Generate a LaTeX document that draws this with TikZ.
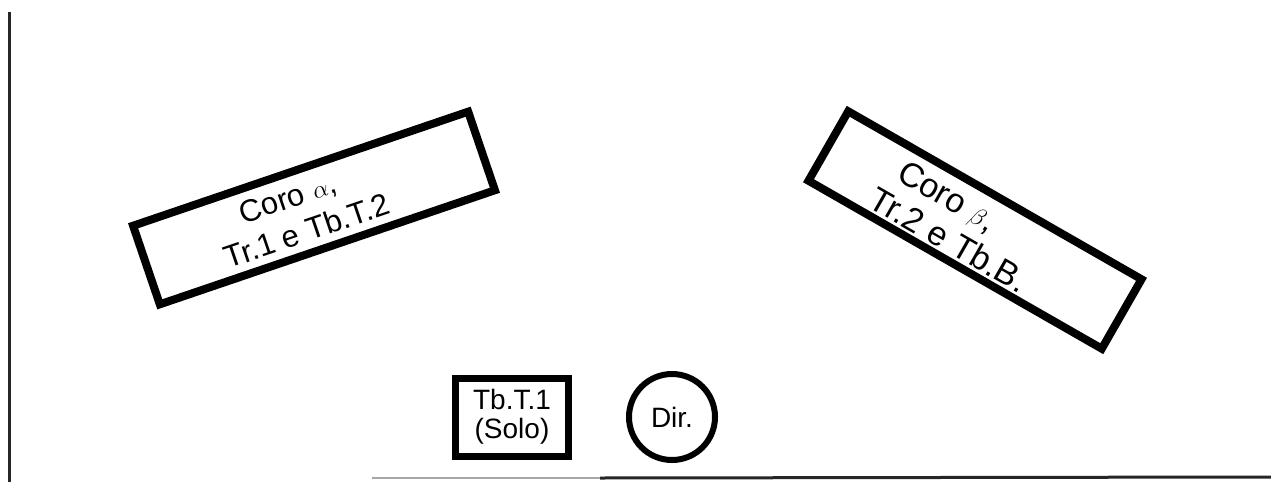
\documentclass[tikz,border=0pt]{standalone}
\usepackage{fontspec}
\setmainfont{Liberation Sans}
\begin{document}
\begin{tikzpicture}[x=1pt,y=-1pt,
  chorbox/.style={draw=black, line width=8pt, rectangle, inner sep=0pt},
  alphatxt/.style={anchor=base, inner sep=0pt, rotate=18.8, font=\fontsize{31}{36}\selectfont},
  betatxt/.style={anchor=base, inner sep=0pt, rotate=-29.8, font=\fontsize{34}{40}\selectfont},
  solobox/.style={draw=black, line width=7pt, rectangle, inner sep=0pt, align=center,
    minimum width=113pt, minimum height=78pt, font=\fontsize{28}{29}\selectfont},
  dirc/.style={draw=black, line width=6pt, circle, inner sep=0pt, minimum size=86pt,
    font=\fontsize{28}{29}\selectfont},
  edge/.style={line width=3pt, draw=black!85}]
\useasboundingbox (0,0) rectangle (1271,482);
\fill[white] (0,0) rectangle (1271,482);
% frame lines
\coordinate (lt) at (9,12);
\coordinate (lb) at (9,482);
\coordinate (b0) at (372,478);
\coordinate (b1) at (600,478);
\coordinate (b2) at (1271,477);
\draw[edge] (lt) -- (lb);
\draw[line width=2.5pt, draw=black!35] (b0) -- (b1);
\draw[edge] (b1) -- (b2);
% choir boxes
\node[chorbox, rotate=18.8, minimum width=354pt, minimum height=83pt] (alpha) at (314,208) {};
\node[alphatxt] (alpha1) at (291,208) {Coro $\alpha$,};
\node[alphatxt] (alpha2) at (310,241) {Tr.1 e Tb.T.2};
\node[chorbox, rotate=-29.8, minimum width=338pt, minimum height=80pt] (beta) at (975,230) {};
\node[betatxt] (beta1) at (942,206) {Coro $\beta$,};
\node[betatxt] (beta2) at (943,250) {Tr.2 e Tb.B.};
% soloist and director
\node[solobox] (solo) at (512,417) {Tb.T.1\\(Solo)};
\node[dirc] (dir) at (672,417) {Dir.};
\end{tikzpicture}
\end{document}
